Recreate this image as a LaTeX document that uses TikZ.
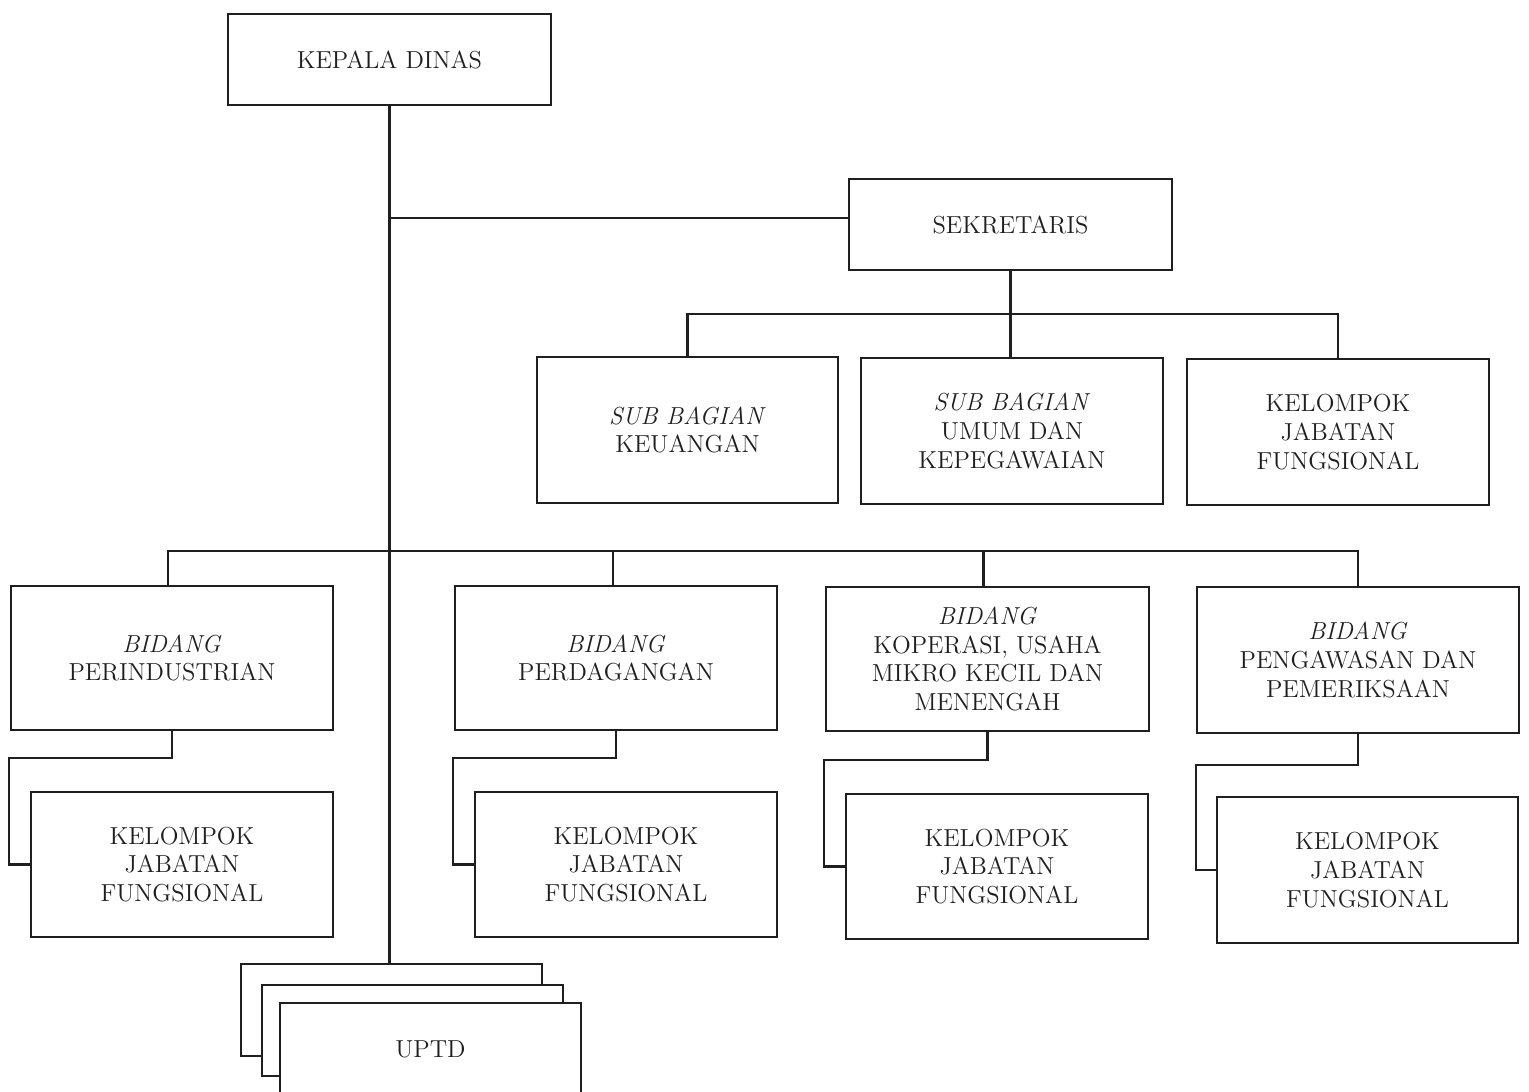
\documentclass[tikz,border=0pt]{standalone}
\usetikzlibrary{calc}
\definecolor{ink}{rgb}{0.12,0.12,0.12}
\begin{document}
\begin{tikzpicture}[x=0.02cm,y=-0.02cm,
  box/.style={draw=ink, line width=1.5pt, fill=white, rectangle, inner sep=0pt, align=center,
    text=ink, font=\fontsize{14}{16.4}\selectfont},
  conn/.style={draw=ink, line width=1.3pt}]
\clip (0,0) rectangle (1529,1092);
\fill[white] (0,0) rectangle (1529,1092);
% top level
\node[box, minimum width=323*0.02cm, minimum height=91*0.02cm] (kd) at (389.5,59.5) {KEPALA DINAS};
\node[box, minimum width=323*0.02cm, minimum height=91*0.02cm] (sek) at (1010.5,224.5) {SEKRETARIS};
% sub bagian row
\node[box, minimum width=301*0.02cm, minimum height=146*0.02cm] (sb1) at (687.5,430) {\textit{SUB BAGIAN}\\KEUANGAN};
\node[box, minimum width=302*0.02cm, minimum height=146*0.02cm] (sb2) at (1012,431) {\textit{SUB BAGIAN}\\UMUM DAN\\KEPEGAWAIAN};
\node[box, minimum width=302*0.02cm, minimum height=146*0.02cm] (sb3) at (1338,432) {KELOMPOK\\JABATAN\\FUNGSIONAL};
% bidang row
\node[box, minimum width=322*0.02cm, minimum height=144*0.02cm] (b1) at (172,658) {\textit{BIDANG}\\PERINDUSTRIAN};
\node[box, minimum width=322*0.02cm, minimum height=144*0.02cm] (b2) at (616,658) {\textit{BIDANG}\\PERDAGANGAN};
\node[box, minimum width=323*0.02cm, minimum height=144*0.02cm] (b3) at (987.5,659) {\textit{BIDANG}\\KOPERASI, USAHA\\MIKRO KECIL DAN\\MENENGAH};
\node[box, minimum width=322*0.02cm, minimum height=146*0.02cm] (b4) at (1358,660) {\textit{BIDANG}\\PENGAWASAN DAN\\PEMERIKSAAN};
% kelompok jabatan fungsional row
\node[box, minimum width=302*0.02cm, minimum height=145*0.02cm] (k1) at (182,864.5) {KELOMPOK\\JABATAN\\FUNGSIONAL};
\node[box, minimum width=302*0.02cm, minimum height=145*0.02cm] (k2) at (626,864.5) {KELOMPOK\\JABATAN\\FUNGSIONAL};
\node[box, minimum width=302*0.02cm, minimum height=145*0.02cm] (k3) at (997,866.5) {KELOMPOK\\JABATAN\\FUNGSIONAL};
\node[box, minimum width=301*0.02cm, minimum height=146*0.02cm] (k4) at (1367.5,870) {KELOMPOK\\JABATAN\\FUNGSIONAL};
% UPTD stack
\node[box, minimum width=301*0.02cm, minimum height=92*0.02cm] (uA) at (391.5,1010) {};
\node[box, minimum width=301*0.02cm, minimum height=91*0.02cm] (uB) at (412.5,1030.5) {};
\node[box, minimum width=301*0.02cm, minimum height=92*0.02cm] (uC) at (430.5,1049) {UPTD};
% bus coordinates
\coordinate (busS) at (1012,314);
\coordinate (busB) at (390,551);
\coordinate (e1) at (9,758);
\coordinate (e2) at (453,758);
\coordinate (e3) at (824,760);
\coordinate (e4) at (1196,765);
% connectors
\draw[conn] (kd.south) -- (kd.south |- uA.north);
\draw[conn] (kd.south |- 0,218) -- (sek.west |- 0,218);
\draw[conn] (sek.south) -- (sek.south |- sb2.north);
\draw[conn] (sb1.north) |- (busS) -| (sb3.north);
\draw[conn] ([xshift=-4*0.02cm]b1.north) |- (b4.north |- busB) -- (b4.north);
\draw[conn] ([xshift=-3*0.02cm]b2.north) -- ([xshift=-3*0.02cm]b2.north |- busB);
\draw[conn] ([xshift=-4*0.02cm]b3.north) -- ([xshift=-4*0.02cm]b3.north |- busB);
\draw[conn] (b1.south) |- (e1) |- (k1.west);
\draw[conn] (b2.south) |- (e2) |- (k2.west);
\draw[conn] (b3.south) |- (e3) |- (k3.west);
\draw[conn] (b4.south) |- (e4) |- (k4.west);
\end{tikzpicture}
\end{document}
